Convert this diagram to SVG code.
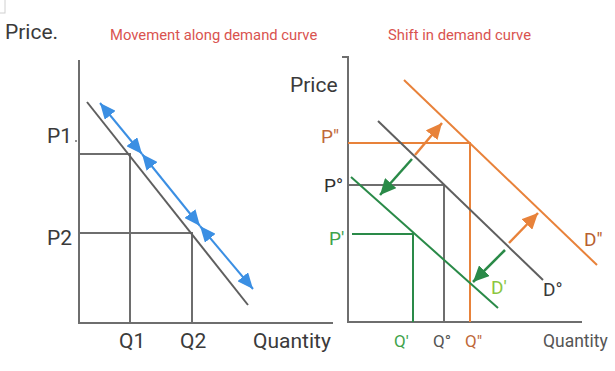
<svg xmlns="http://www.w3.org/2000/svg" width="615" height="371" viewBox="0 0 615 371">
<style>
  text { font-family: Roboto, "Liberation Sans", sans-serif; }
  .lbl { font-size: 21px; fill: #3a3a3a; }
  .title { font-size: 14.8px; fill: #d9534f; }
  .axis { stroke: #6e6e6e; stroke-width: 2; fill: none; }
  .gray { stroke: #5f5f5f; stroke-width: 2; fill: none; }
  .guide { stroke: #6e6e6e; stroke-width: 2; fill: none; }
  .blue { stroke: #3b8fe3; stroke-width: 2; fill: none; marker-start: url(#bh); marker-end: url(#bh); }
  .orange { stroke: #e8823a; stroke-width: 2; fill: none; }
  .green { stroke: #2a8a48; stroke-width: 2; fill: none; }
  .oarrow { stroke: #e8823a; stroke-width: 2.5; fill: none; marker-end: url(#oh); }
  .garrow { stroke: #2a8a48; stroke-width: 2.5; fill: none; marker-end: url(#gh); }
</style>
<defs>
  <marker id="bh" markerUnits="userSpaceOnUse" viewBox="0 0 16 14" refX="16" refY="7" markerWidth="16" markerHeight="14" orient="auto-start-reverse">
    <path d="M0,0 L16,7 L0,14 z" fill="#3b8fe3"/>
  </marker>
  <marker id="oh" markerUnits="userSpaceOnUse" viewBox="0 0 16 15" refX="16" refY="7.5" markerWidth="16" markerHeight="15" orient="auto">
    <path d="M0,0 L16,7.5 L0,15 z" fill="#e8823a"/>
  </marker>
  <marker id="gh" markerUnits="userSpaceOnUse" viewBox="0 0 16 15" refX="16" refY="7.5" markerWidth="16" markerHeight="15" orient="auto">
    <path d="M0,0 L16,7.5 L0,15 z" fill="#2a8a48"/>
  </marker>
</defs>

<rect x="-2" y="-2" width="7" height="15" fill="none" stroke="#d0d0d0" stroke-width="1"/>

<g id="left-panel">
  <text class="lbl" x="5" y="39">Price.</text>
  <text class="title" x="110" y="40">Movement along demand curve</text>
  <path class="axis" d="M79,60 V323 H333"/>
  <g id="left-guides">
    <path class="guide" d="M79,154 H130 V323"/>
    <path class="guide" d="M79,233 H192 V323"/>
  </g>
  <g id="left-demand">
    <line class="gray" x1="87" y1="102" x2="248" y2="305"/>
  </g>
  <g id="left-labels">
    <text class="lbl" x="47" y="143">P1</text>
    <line x1="75" y1="141" x2="77" y2="141" stroke="#6e6e6e" stroke-width="1.5"/>
    <text class="lbl" x="47" y="245">P2</text>
    <text class="lbl" x="119" y="348">Q1</text>
    <text class="lbl" x="180" y="348">Q2</text>
    <text class="lbl" x="253" y="348">Quantity</text>
  </g>
</g>

<g id="connectors-left">
  <line class="blue" x1="100" y1="103" x2="142" y2="154"/>
  <line class="blue" x1="142" y1="154" x2="200" y2="226"/>
  <line class="blue" x1="200" y1="226" x2="253" y2="289"/>
</g>

<g id="right-panel">
  <text class="title" x="388" y="40">Shift in demand curve</text>
  <text class="lbl" x="290" y="92" font-size="22">Price</text>
  <path class="axis" d="M342,57 H348 V322 H582"/>
  <g id="right-guides">
    <path class="orange" d="M348,143 H470 V322"/>
    <path class="guide" d="M348,185 H444 V322"/>
    <path class="green" d="M352,234 H413 V322"/>
  </g>
  <g id="curve-D0">
    <line class="gray" x1="378" y1="121" x2="543" y2="280"/>
    <text x="543" y="296" font-size="19" fill="#3a3a3a">D°</text>
  </g>
  <g id="curve-D2">
    <line class="orange" x1="404" y1="80" x2="597" y2="265"/>
    <text x="584" y="246" font-size="19" fill="#b8602f">D"</text>
  </g>
  <g id="curve-D1">
    <line class="green" x1="351" y1="177" x2="498" y2="308"/>
    <text x="491" y="294" font-size="19" fill="#8cc63f">D'</text>
  </g>
  <g id="right-labels">
    <text x="321" y="143" font-size="19" fill="#c0693a">P"</text>
    <text x="324" y="192" font-size="19" fill="#2f2f2f">P°</text>
    <text x="329" y="245" font-size="19" fill="#3fa34d">P'</text>
    <text x="394" y="347" font-size="17" fill="#3fa34d">Q'</text>
    <text x="433" y="347" font-size="17" fill="#555555">Q°</text>
    <text x="465" y="347" font-size="17" fill="#c0693a">Q"</text>
    <text x="543" y="347" font-size="17.5" fill="#555555">Quantity</text>
  </g>
</g>

<g id="connectors-right">
  <line class="oarrow" x1="415" y1="155" x2="442" y2="123"/>
  <line class="garrow" x1="412" y1="159" x2="380" y2="195"/>
  <line class="oarrow" x1="509" y1="243" x2="538" y2="213"/>
  <line class="garrow" x1="505" y1="250" x2="473" y2="282"/>
</g>
</svg>
